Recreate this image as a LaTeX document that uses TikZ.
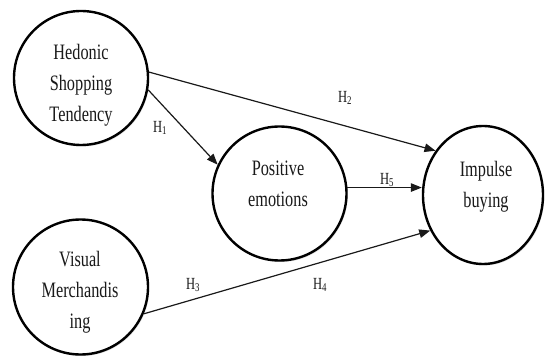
\documentclass[tikz,border=0pt]{standalone}
\usepackage{fontspec}
\setmainfont[FakeStretch=0.74]{Liberation Serif}
\usetikzlibrary{arrows.meta,shapes.geometric,shadows}
\begin{document}
\begin{tikzpicture}[x=1pt,y=-1pt,
  var/.style={circle,draw=black,line width=2.4pt,fill=white,inner sep=0pt,minimum size=#1,
    drop shadow={shadow xshift=1.2pt,shadow yshift=-1.5pt,opacity=0.25}},
  evar/.style={ellipse,draw=black,line width=2.4pt,fill=white,inner sep=0pt,minimum width=120pt,minimum height=138pt,
    drop shadow={shadow xshift=1.2pt,shadow yshift=-1.5pt,opacity=0.25}},
  txt/.style={align=center,inner sep=0pt,font=\fontsize{22}{31}\selectfont,text=black!90},
  hl/.style={inner sep=0pt,font=\fontsize{17}{18}\selectfont,text=black!90},
  arr/.style={line width=1.2pt,draw=black!90,-{Triangle[length=11pt,width=8.5pt]}}
]
\fill[white] (0,0) rectangle (546,358);
\useasboundingbox (0,0) rectangle (546,358);

\node[var=134pt] (hed) at (81,78) {};
\node[var=135pt] (vis) at (80.5,287) {};
\node[var=134pt] (pos) at (279.5,193.5) {};
\node[evar] (imp) at (483,195) {};

\node[txt] (hedt) at (81,85) {Hedonic\\Shopping\\Tendency};
\node[txt] (vist) at (80,292) {Visual\\Merchandis\\ing};
\node[txt] (post) at (278,184) {Positive\\emotions};
\node[txt] (impt) at (486,187) {Impulse\\buying};

\draw[arr] (hed.5) -- (imp.137);
\draw[arr] (hed.-10) -- (pos.155);
\draw[arr] (pos.5) -- (pos.5 -| imp.west);
\draw[arr] (vis.-23) -- (imp.214);

\node[hl] (h1) at (160,128) {H\textsubscript{1}};
\node[hl] (h2) at (345,98) {H\textsubscript{2}};
\node[hl] (h5) at (387,180) {H\textsubscript{5}};
\node[hl] (h3) at (193,285) {H\textsubscript{3}};
\node[hl] (h4) at (320,285) {H\textsubscript{4}};
\end{tikzpicture}
\end{document}
